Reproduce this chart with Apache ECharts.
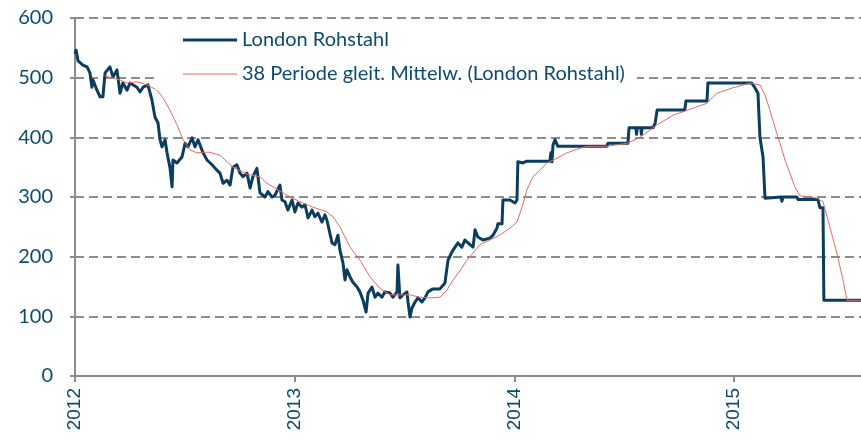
<!DOCTYPE html>
<html>
<head>
<meta charset="utf-8">
<style>
  html, body { margin: 0; padding: 0; background: #fff; }
  #chart { width: 861px; height: 439px; }
</style>
<script src="https://cdn.jsdelivr.net/npm/echarts@6/dist/echarts.min.js"></script>
</head>
<body>
<div id="chart"></div>
<script>
// London Rohstahl, Zeitpunkte als Dezimaljahr
const stahlT = [
  2012.000, 2012.005, 2012.014, 2012.023, 2012.036, 2012.055, 2012.068, 2012.077, 2012.082, 2012.100,
  2012.114, 2012.127, 2012.137, 2012.159, 2012.173, 2012.191, 2012.205, 2012.218, 2012.237, 2012.250,
  2012.282, 2012.296, 2012.310, 2012.332, 2012.350, 2012.364, 2012.378, 2012.387, 2012.396, 2012.410,
  2012.419, 2012.432, 2012.442, 2012.446, 2012.464, 2012.487, 2012.501, 2012.514, 2012.533, 2012.546,
  2012.560, 2012.583, 2012.601, 2012.624, 2012.646, 2012.660, 2012.674, 2012.692, 2012.706, 2012.719,
  2012.737, 2012.751, 2012.765, 2012.783, 2012.797, 2012.810, 2012.828, 2012.833, 2012.842, 2012.865,
  2012.878, 2012.897, 2012.910, 2012.933, 2012.942, 2012.956, 2012.969, 2012.988, 2013.001, 2013.015,
  2013.033, 2013.047, 2013.061, 2013.079, 2013.092, 2013.106, 2013.124, 2013.138, 2013.147, 2013.170,
  2013.183, 2013.197, 2013.206, 2013.220, 2013.229, 2013.238, 2013.252, 2013.265, 2013.284, 2013.297,
  2013.311, 2013.325, 2013.334, 2013.352, 2013.366, 2013.379, 2013.397, 2013.411, 2013.434, 2013.447,
  2013.466, 2013.470, 2013.479, 2013.493, 2013.511, 2013.516, 2013.525, 2013.534, 2013.548, 2013.561,
  2013.579, 2013.593, 2013.607, 2013.629, 2013.661, 2013.684, 2013.698, 2013.716, 2013.730, 2013.743,
  2013.761, 2013.775, 2013.789, 2013.798, 2013.812, 2013.821, 2013.834, 2013.857, 2013.889, 2013.903,
  2013.921, 2013.925, 2013.944, 2013.948, 2013.980, 2014.003, 2014.012, 2014.016, 2014.039, 2014.057,
  2014.162, 2014.166, 2014.171, 2014.176, 2014.185, 2014.198, 2014.421, 2014.426, 2014.490, 2014.517,
  2014.522, 2014.553, 2014.556, 2014.560, 2014.576, 2014.578, 2014.582, 2014.631, 2014.641, 2014.650,
  2014.776, 2014.781, 2014.877, 2014.881, 2015.081, 2015.095, 2015.109, 2015.118, 2015.132, 2015.141,
  2015.214, 2015.218, 2015.223, 2015.286, 2015.291, 2015.382, 2015.391, 2015.405, 2015.409, 2015.578
];
const stahlV = [
  540, 546, 528, 530, 521, 518, 508, 484, 496, 479,
  468, 468, 508, 518, 501, 513, 474, 491, 479, 491,
  484, 476, 484, 488, 463, 434, 424, 396, 384, 396,
  374, 350, 317, 362, 357, 367, 390, 384, 399, 384,
  396, 374, 362, 354, 345, 340, 323, 328, 320, 350,
  354, 340, 334, 340, 315, 334, 348, 334, 307, 300,
  309, 300, 303, 320, 295, 292, 278, 295, 275, 290,
  283, 287, 265, 278, 267, 273, 258, 270, 261, 223,
  220, 236, 211, 189, 161, 178, 166, 157, 149, 141,
  127, 107, 139, 149, 132, 139, 132, 141, 139, 132,
  141, 186, 131, 136, 141, 124, 99, 114, 124, 131,
  124, 131, 141, 146, 146, 156, 194, 208, 216, 223,
  216, 228, 223, 225, 216, 245, 233, 228, 231, 236,
  248, 255, 255, 295, 295, 290, 295, 359, 357, 360,
  360, 374, 359, 387, 396, 385, 385, 390, 390, 390,
  416, 416, 405, 416, 416, 405, 416, 416, 424, 446,
  446, 461, 461, 491, 491, 483, 474, 400, 367, 298,
  300, 293, 300, 300, 296, 296, 282, 282, 127, 127
];

// 38 Perioden gleitender Mittelwert
const mittelT = [
  2012.137, 2012.205, 2012.237, 2012.282, 2012.328, 2012.373, 2012.401, 2012.432, 2012.464, 2012.492,
  2012.523, 2012.555, 2012.583, 2012.614, 2012.660, 2012.719, 2012.783, 2012.842, 2012.874, 2012.901,
  2012.965, 2013.024, 2013.083, 2013.147, 2013.174, 2013.206, 2013.252, 2013.297, 2013.343, 2013.388,
  2013.434, 2013.479, 2013.525, 2013.570, 2013.616, 2013.661, 2013.693, 2013.721, 2013.752, 2013.784,
  2013.798, 2013.843, 2013.889, 2013.934, 2013.980, 2014.012, 2014.035, 2014.057, 2014.085, 2014.117,
  2014.148, 2014.194, 2014.239, 2014.285, 2014.330, 2014.421, 2014.513, 2014.572, 2014.650, 2014.722,
  2014.799, 2014.877, 2014.922, 2014.995, 2015.072, 2015.118, 2015.141, 2015.163, 2015.186, 2015.209,
  2015.232, 2015.254, 2015.277, 2015.300, 2015.345, 2015.377, 2015.405, 2015.436, 2015.468, 2015.496,
  2015.514, 2015.578
];
const mittelV = [
  503, 496, 491, 493, 488, 479, 466, 446, 421, 396,
  379, 374, 375, 375, 370, 350, 338, 334, 323, 317,
  303, 292, 283, 275, 267, 250, 216, 194, 166, 147,
  136, 136, 136, 132, 131, 132, 144, 161, 176, 194,
  200, 220, 228, 236, 248, 258, 283, 312, 334, 345,
  357, 365, 374, 380, 385, 385, 390, 400, 421, 437,
  447, 457, 474, 483, 491, 488, 471, 446, 417, 390,
  362, 340, 317, 302, 300, 298, 292, 250, 206, 161,
  127, 127
];

const jahre = [2012, 2013, 2014, 2015];

const textColor = "#0d4a70";
const gridGrey = "#8c8c8c";
const stahlColor = "#0b3d5e";
const mittelColor = "#e66a62";

const chart = echarts.init(document.getElementById("chart"));

const option = {
  animation: false,
  grid: {
    left: 75,
    top: 18,
    right: 0,
    bottom: 63,
  },
  legend: {
    orient: "vertical",
    left: 155,
    top: 24,
    padding: [6, 12, 6, 28],
    backgroundColor: "#fff",
    itemWidth: 54,
    itemHeight: 14,
    itemGap: 14,
    symbolKeepAspect: true,
    textStyle: {
      color: textColor,
      fontFamily: "Lato",
      fontSize: 20,
    },
    data: [
      { name: "London Rohstahl", icon: "path://M0,0H54V3H0Z" },
      { name: "38 Periode gleit. Mittelw. (London Rohstahl)", icon: "path://M0,0H54V1H0Z" },
    ],
  },
  xAxis: {
    type: "value",
    min: 2012,
    max: 2015.578,
    interval: 1,
    splitLine: { show: false },
    axisLine: {
      show: true,
      onZero: false,
      lineStyle: { color: gridGrey, width: 2 },
    },
    axisTick: {
      show: true,
      length: 6,
      lineStyle: { color: gridGrey, width: 2 },
    },
    axisLabel: {
      rotate: 90,
      margin: 12,
      color: textColor,
      fontFamily: "Liberation Sans",
      fontSize: 19,
      showMaxLabel: false,
      formatter: function (v) {
        return jahre.indexOf(v) >= 0 ? String(v) : "";
      },
    },
  },
  yAxis: {
    type: "value",
    min: 0,
    max: 600,
    interval: 100,
    axisLine: {
      show: true,
      lineStyle: { color: gridGrey, width: 2 },
    },
    axisTick: {
      show: true,
      length: 5,
      lineStyle: { color: gridGrey, width: 2 },
    },
    axisLabel: {
      margin: 22,
      color: textColor,
      fontFamily: "Lato",
      fontSize: 20,
    },
    splitLine: {
      lineStyle: {
        color: gridGrey,
        width: 2,
        type: [9, 5],
      },
    },
  },
  series: [
    {
      name: "London Rohstahl",
      type: "line",
      symbol: "none",
      data: stahlT.map((t, i) => [t, stahlV[i]]),
      lineStyle: { color: stahlColor, width: 3, join: "round" },
      itemStyle: { color: stahlColor },
    },
    {
      name: "38 Periode gleit. Mittelw. (London Rohstahl)",
      type: "line",
      symbol: "none",
      data: mittelT.map((t, i) => [t, mittelV[i]]),
      lineStyle: { color: mittelColor, width: 1 },
      itemStyle: { color: mittelColor },
    },
  ],
};

chart.setOption(option);
</script>
</body>
</html>
